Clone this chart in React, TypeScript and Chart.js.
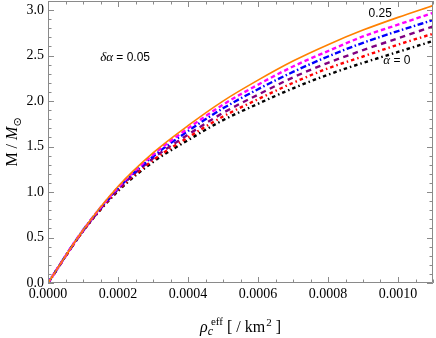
import React, { useEffect, useRef } from "react";
import { Chart, registerables } from "chart.js";

Chart.register(...registerables);

// ---- data ----
const rhoC = [0, 0.0001, 0.0002, 0.0003, 0.0004, 0.0005, 0.0006, 0.0007, 0.0008, 0.0009, 0.001, 0.0011];
const massAlpha025 = [0, 0.58, 1.06, 1.43, 1.73, 2.0, 2.23, 2.44, 2.62, 2.78, 2.92, 3.05];
const massAlpha020 = [0, 0.58, 1.05, 1.41, 1.7, 1.96, 2.18, 2.38, 2.55, 2.71, 2.84, 2.97];
const massAlpha015 = [0, 0.58, 1.04, 1.39, 1.67, 1.92, 2.13, 2.32, 2.49, 2.64, 2.77, 2.89];
const massAlpha010 = [0, 0.57, 1.03, 1.37, 1.63, 1.87, 2.07, 2.26, 2.42, 2.56, 2.69, 2.82];
const massAlpha005 = [0, 0.57, 1.02, 1.35, 1.6, 1.83, 2.02, 2.2, 2.36, 2.49, 2.62, 2.74];
const massAlpha000 = [0, 0.57, 1.01, 1.33, 1.57, 1.79, 1.97, 2.14, 2.29, 2.42, 2.54, 2.66];

const xTickValues = [0, 0.0002, 0.0004, 0.0006, 0.0008, 0.001];
const xTickLabels = ["0.0000", "0.0002", "0.0004", "0.0006", "0.0008", "0.0010"];
const yTickValues = [0, 0.5, 1, 1.5, 2, 2.5, 3];
const yTickLabels = ["0.0", "0.5", "1.0", "1.5", "2.0", "2.5", "3.0"];

const X_MIN = 0;
const X_MAX = 0.0011;
const Y_MIN = 0;
const Y_MAX = 3.1;

const SERIF = "'Liberation Serif', 'DejaVu Serif', serif";
const SANS = "'Liberation Sans', Arial, sans-serif";

type Run = { text: string; font: string; dy?: number; dx?: number };

function drawRuns(ctx: CanvasRenderingContext2D, runs: Run[], x: number, y: number, align: "left" | "center") {
  ctx.textBaseline = "alphabetic";
  ctx.textAlign = "left";
  let total = 0;
  for (const r of runs) {
    ctx.font = r.font;
    total += ctx.measureText(r.text).width + (r.dx || 0);
  }
  let cx = align === "center" ? x - total / 2 : x;
  for (const r of runs) {
    ctx.font = r.font;
    cx += r.dx || 0;
    ctx.fillText(r.text, cx, y + (r.dy || 0));
    cx += ctx.measureText(r.text).width;
  }
}

const framePlugin = {
  id: "frameTicks",
  afterDraw(chart: any) {
    const { ctx, chartArea } = chart;
    const { left, right, top, bottom } = chartArea;
    const xs = chart.scales.x;
    const ys = chart.scales.y;
    ctx.save();
    ctx.strokeStyle = "#8a8a8a";
    ctx.lineWidth = 1;
    ctx.beginPath();
    // frame
    ctx.rect(left + 0.5, top + 0.5, right - left - 1, bottom - top - 1);
    // x ticks (bottom + top)
    for (let k = 0; k <= 22; k++) {
      const v = k * 0.00005;
      const px = Math.round(xs.getPixelForValue(v)) + 0.5;
      const len = k % 4 === 0 ? 6 : 3.5;
      ctx.moveTo(px, bottom);
      ctx.lineTo(px, bottom - len);
      ctx.moveTo(px, top);
      ctx.lineTo(px, top + len);
    }
    // y ticks (left + right)
    for (let k = 0; k <= 31; k++) {
      const v = k * 0.1;
      const py = Math.round(ys.getPixelForValue(v)) + 0.5;
      const len = k % 5 === 0 ? 6 : 3.5;
      ctx.moveTo(left, py);
      ctx.lineTo(left + len, py);
      ctx.moveTo(right, py);
      ctx.lineTo(right - len, py);
    }
    ctx.stroke();

    ctx.fillStyle = "#000";
    // annotations
    drawRuns(
      ctx,
      [
        { text: "δα", font: `italic 13px ${SERIF}` },
        { text: " = 0.05", font: `12px ${SANS}` },
      ],
      xs.getPixelForValue(0.000149),
      ys.getPixelForValue(2.44),
      "left"
    );
    drawRuns(ctx, [{ text: "0.25", font: `12px ${SANS}` }], xs.getPixelForValue(0.000949), ys.getPixelForValue(2.92), "center");
    drawRuns(
      ctx,
      [
        { text: "α", font: `italic 13px ${SERIF}` },
        { text: " = 0", font: `12px ${SANS}` },
      ],
      xs.getPixelForValue(0.000997),
      ys.getPixelForValue(2.41),
      "center"
    );

    // x-axis title
    drawRuns(
      ctx,
      [
        { text: "ρ", font: `italic 16px ${SERIF}` },
        { text: "c", font: `italic 12px ${SERIF}`, dy: 3 },
        { text: "eff", font: `11px ${SERIF}`, dy: -7, dx: -2 },
        { text: " [ / km", font: `16px ${SERIF}` },
        { text: "2", font: `11px ${SERIF}`, dy: -6, dx: 1 },
        { text: " ]", font: `16px ${SERIF}` },
      ],
      (left + right) / 2,
      332,
      "center"
    );

    // y-axis title (rotated)
    ctx.translate(17, (top + bottom) / 2);
    ctx.rotate(-Math.PI / 2);
    drawRuns(
      ctx,
      [
        { text: "M / ", font: `16px ${SERIF}` },
        { text: "M", font: `italic 16px ${SERIF}` },
        { text: "⊙", font: `11px 'DejaVu Sans'`, dy: 4 },
      ],
      0,
      0,
      "center"
    );
    ctx.restore();
  },
};

function toPoints(ys: number[]) {
  return rhoC.map((x, i) => ({ x, y: ys[i] }));
}

export default function App() {
  const canvasRef = useRef<HTMLCanvasElement | null>(null);

  useEffect(() => {
    document.body.style.margin = "0";
    const canvas = canvasRef.current;
    if (!canvas) return;
    const common = {
      pointRadius: 0,
      fill: false,
      cubicInterpolationMode: "monotone" as const,
      borderCapStyle: "butt" as const,
    };
    const chart = new Chart(canvas, {
      type: "line",
      data: {
        datasets: [
          { ...common, label: "α = 0.25", data: toPoints(massAlpha025), borderColor: "#FF8000", borderWidth: 1.6 },
          { ...common, label: "α = 0.20", data: toPoints(massAlpha020), borderColor: "#FF00FF", borderWidth: 2.4, borderDash: [4.5, 3] },
          { ...common, label: "α = 0.15", data: toPoints(massAlpha015), borderColor: "#0000FF", borderWidth: 2.4, borderDash: [6, 2.5, 1.5, 2.5] },
          { ...common, label: "α = 0.10", data: toPoints(massAlpha010), borderColor: "#800080", borderWidth: 2.4, borderDash: [5.5, 4.5] },
          { ...common, label: "α = 0.05", data: toPoints(massAlpha005), borderColor: "#FF0000", borderWidth: 2.4, borderDash: [3.5, 3, 1.5, 3] },
          { ...common, label: "α = 0", data: toPoints(massAlpha000), borderColor: "#000000", borderWidth: 2.4, borderDash: [3.5, 3, 1.5, 3] },
        ],
      },
      options: {
        animation: false,
        responsive: false,
        devicePixelRatio: 1,
        layout: { padding: { top: 1, right: 3, left: 0, bottom: 0 } },
        plugins: { legend: { display: false }, tooltip: { enabled: false } },
        scales: {
          x: {
            type: "linear",
            min: X_MIN,
            max: X_MAX,
            grid: { display: false, drawTicks: false },
            border: { display: false },
            afterBuildTicks: (s: any) => {
              s.ticks = xTickValues.map((v) => ({ value: v }));
            },
            afterFit: (s: any) => {
              s.height = 55;
              s.paddingLeft = 0;
              s.paddingRight = 0;
            },
            ticks: {
              autoSkip: false,
              maxRotation: 0,
              padding: 3,
              color: "#000",
              font: { family: SERIF, size: 14 },
              callback: (_v: any, i: number) => xTickLabels[i],
            },
          },
          y: {
            type: "linear",
            min: Y_MIN,
            max: Y_MAX,
            grid: { display: false, drawTicks: false },
            border: { display: false },
            afterBuildTicks: (s: any) => {
              s.ticks = yTickValues.map((v) => ({ value: v }));
            },
            afterFit: (s: any) => {
              s.width = 48;
              s.paddingTop = 0;
              s.paddingBottom = 0;
            },
            ticks: {
              autoSkip: false,
              padding: 4,
              color: "#000",
              font: { family: SERIF, size: 14 },
              callback: (_v: any, i: number) => yTickLabels[i],
            },
          },
        },
      },
      plugins: [framePlugin],
    } as any);
    return () => chart.destroy();
  }, []);

  return (
    <div style={{ width: 436, height: 338 }}>
      <canvas ref={canvasRef} width={436} height={338} />
    </div>
  );
}
